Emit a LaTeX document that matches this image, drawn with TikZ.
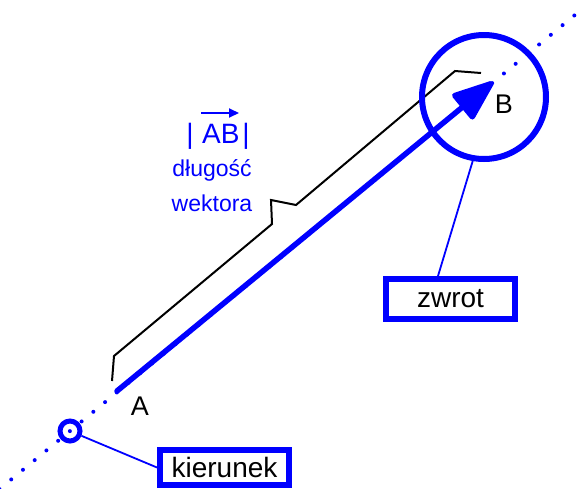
\documentclass[tikz,border=0pt]{standalone}
\usepackage{fontspec}
\setmainfont{Liberation Sans}
\usetikzlibrary{arrows.meta,calc}
\definecolor{vblue}{RGB}{0,0,255}
\begin{document}
\begin{tikzpicture}[x=1pt,y=-1pt,
  lbox/.style={draw=vblue,line width=6pt,fill=white,inner sep=0pt,font=\fontsize{28}{30}\selectfont,text=black},
  bluetxt/.style={text=vblue,font=\fontsize{23}{26}\selectfont,anchor=base,inner sep=0pt},
  pt/.style={font=\fontsize{27}{30}\selectfont,inner sep=0pt,anchor=base},
  conn/.style={draw=vblue,line width=1.8pt}]
\useasboundingbox (0,0) rectangle (579,488);
\begin{scope}
\clip (0,0) rectangle (579,488);
% dotted line (direction)
\draw[vblue,line width=4pt,line cap=round,dash pattern=on 0pt off 15.2pt] (-0.5,489.1) -- (580,10.8);
\end{scope}
% bracket (length)
\draw[black,line width=2pt] (112,381) -- (114,356) -- (272,224) -- (271,200) -- (296,205) -- (455,71) -- (481,73);
% vector
\coordinate (A) at (117,391);
\coordinate (B) at (493,82);
\draw[vblue,line width=5.5pt,line cap=round,-{Triangle[length=46pt 0 0,width=34pt 0 0,round]}] (A) -- (B);
% circles
\node[draw=vblue,line width=6pt,circle,minimum size=124pt,inner sep=0pt] (cB) at (484,97) {};
\node[draw=vblue,line width=5pt,circle,minimum size=20pt,inner sep=0pt] (cK) at (70,431) {};
% labels
\node[pt] (lA) at (140,415) {A};
\node[pt] (lB) at (504,113) {B};
\node[bluetxt,font=\fontsize{28}{30}\selectfont] (abs) at (218,143) {|\hspace{0.3em}AB\hspace{0.1em}|};
\draw[vblue,line width=2pt,-{Triangle[length=10pt 0 0,width=9pt 0 0]}] (201,113) -- (239,113);
\node[bluetxt] (dl) at (212,176) {długość};
\node[bluetxt] (wk) at (212,211) {wektora};
% boxes
\node[lbox,minimum width=128.5pt,minimum height=40pt] (zw) at (450.5,299) {zwrot};
\node[lbox,minimum width=129pt,minimum height=35.5pt] (kr) at (224.5,467.5) {kierunek};
% connectors
\draw[conn] (cB.260) -- ($(zw.north)+(-12.5,0)$);
\draw[conn] (cK) -- (kr.west);
\end{tikzpicture}
\end{document}
